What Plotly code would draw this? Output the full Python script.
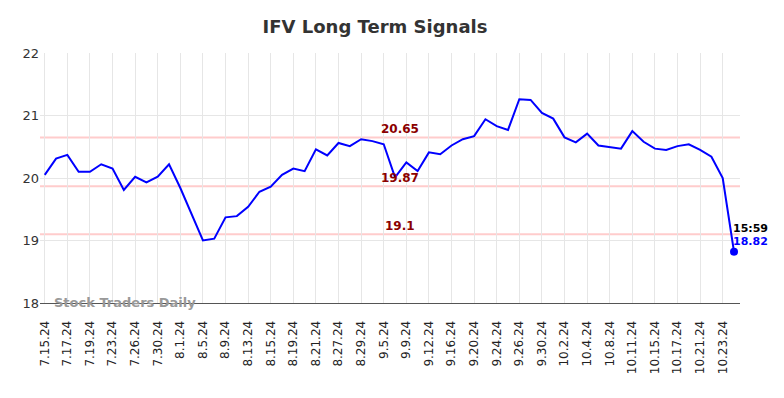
import plotly.graph_objects as go

dates = ["7.15.24", "7.16.24", "7.17.24", "7.18.24", "7.19.24", "7.22.24", "7.23.24", "7.25.24",
         "7.26.24", "7.29.24", "7.30.24", "7.31.24", "8.1.24", "8.2.24", "8.5.24", "8.7.24",
         "8.9.24", "8.12.24", "8.13.24", "8.14.24", "8.15.24", "8.16.24", "8.19.24", "8.20.24",
         "8.21.24", "8.23.24", "8.27.24", "8.28.24", "8.29.24", "9.3.24", "9.5.24", "9.6.24",
         "9.9.24", "9.11.24", "9.12.24", "9.13.24", "9.16.24", "9.18.24", "9.20.24", "9.23.24",
         "9.24.24", "9.25.24", "9.26.24", "9.27.24", "9.30.24", "10.1.24", "10.2.24", "10.3.24",
         "10.4.24", "10.7.24", "10.8.24", "10.10.24", "10.11.24", "10.14.24", "10.15.24", "10.16.24",
         "10.17.24", "10.18.24", "10.21.24", "10.22.24", "10.23.24", "10.24.24"]

prices = [20.05, 20.31, 20.37, 20.10, 20.10, 20.22, 20.15, 19.81, 20.02, 19.93,
          20.02, 20.22, 19.84, 19.42, 19.00, 19.03, 19.37, 19.39, 19.54, 19.78,
          19.86, 20.05, 20.15, 20.11, 20.46, 20.36, 20.56, 20.51, 20.62, 20.59,
          20.54, 20.01, 20.25, 20.11, 20.41, 20.38, 20.52, 20.62, 20.67, 20.94,
          20.83, 20.77, 21.26, 21.25, 21.04, 20.95, 20.65, 20.57, 20.71, 20.52,
          20.49, 20.47, 20.75, 20.58, 20.47, 20.45, 20.51, 20.54, 20.45, 20.34,
          20.00, 18.82]

tick_labels = dates[::2]
levels = [20.65, 19.87, 19.1]
level_labels = ["20.65", "19.87", "19.1"]
y_ticks = [18, 19, 20, 21, 22]
last_time = "15:59"
last_price_label = "18.82"

FONT = "DejaVu Sans"

fig = go.Figure()

fig.add_trace(go.Scatter(
    x=dates, y=prices, mode="lines",
    line=dict(color="#0000ff", width=2),
    hoverinfo="skip", showlegend=False,
))
fig.add_trace(go.Scatter(
    x=[dates[-1]], y=[prices[-1]], mode="markers",
    marker=dict(color="#0000ff", size=8),
    hoverinfo="skip", showlegend=False,
))

for lv, lab in zip(levels, level_labels):
    fig.add_shape(type="line", xref="paper", x0=0, x1=1, yref="y", y0=lv, y1=lv,
                  line=dict(color="#ffcccc", width=2), layer="between")
    fig.add_annotation(x=31.4, y=lv, xref="x", yref="y", text="<b>%s</b>" % lab,
                       showarrow=False, yanchor="bottom", yshift=-1,
                       font=dict(family=FONT, size=12, color="#8b0000"))

fig.add_annotation(x=len(dates) - 1, y=prices[-1], xref="x", yref="y",
                   text="<b>%s</b>" % last_time, showarrow=False,
                   xanchor="left", yanchor="middle", xshift=-3, yshift=23,
                   font=dict(family=FONT, size=11, color="#000000"))
fig.add_annotation(x=len(dates) - 1, y=prices[-1], xref="x", yref="y",
                   text="<b>%s</b>" % last_price_label, showarrow=False,
                   xanchor="left", yanchor="middle", xshift=-3, yshift=10,
                   font=dict(family=FONT, size=11, color="#0000ff"))

fig.add_annotation(x=0.017, y=0.004, xref="paper", yref="paper",
                   text="<b>Stock Traders Daily</b>", showarrow=False,
                   xanchor="left", yanchor="middle",
                   font=dict(family=FONT, size=13, color="#999999"))

W, H = 776, 390
fig.update_layout(
    width=W, height=H,
    margin=dict(l=32, r=44, t=45, b=95),
    paper_bgcolor="white", plot_bgcolor="white",
    title=dict(text="<b>IFV Long Term Signals</b>", x=367 / W, xref="container",
               y=1 - 19 / H, yref="container", xanchor="center", yanchor="middle",
               font=dict(family=FONT, size=18, color="#333333")),
    xaxis=dict(type="category", range=[-0.42, 61.53], tickmode="array",
               tickvals=tick_labels, ticktext=tick_labels, tickangle=-90,
               ticklabelstandoff=12,
               showgrid=True, gridcolor="#e6e6e6", gridwidth=1,
               showline=True, linecolor="#555555", linewidth=1, ticks="",
               tickfont=dict(family=FONT, size=12, color="#222222"), fixedrange=True),
    yaxis=dict(range=[18, 22], tickvals=y_ticks, showgrid=True, gridcolor="#e6e6e6",
               gridwidth=1, zeroline=False, showline=False, ticks="",
               tickfont=dict(family=FONT, size=13, color="#333333"), fixedrange=True),
)

fig.write_html("out.html")
